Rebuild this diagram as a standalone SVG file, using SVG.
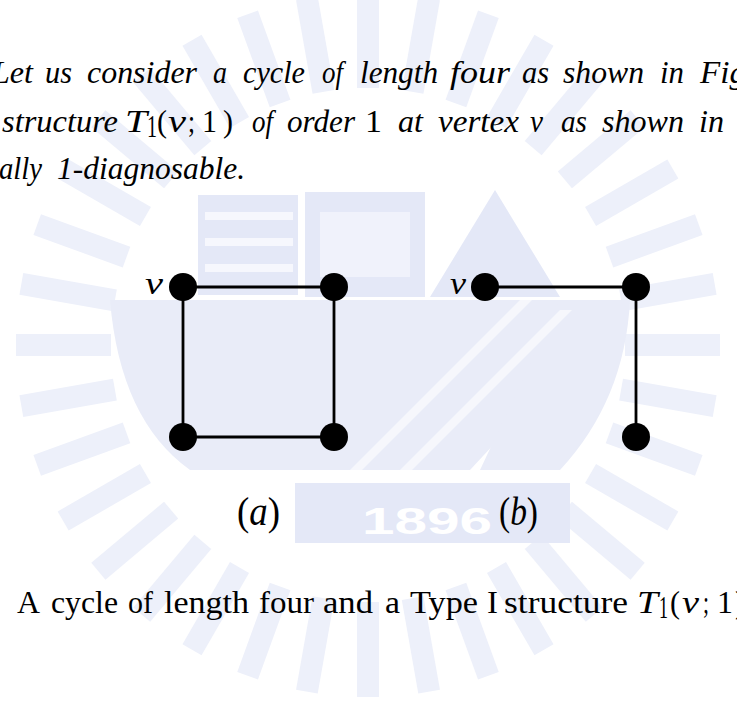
<svg xmlns="http://www.w3.org/2000/svg" xmlns:xlink="http://www.w3.org/1999/xlink" width="737" height="702" viewBox="0 0 737 702">
<style>
.it{font-family:"Liberation Serif","DejaVu Serif",serif;font-style:italic;font-size:32px;fill:#000}
.rm{font-family:"Liberation Serif","DejaVu Serif",serif;font-size:32px;fill:#000}
.cap{font-family:"Liberation Serif","DejaVu Serif",serif;font-size:32px;fill:#000}
.capi{font-family:"Liberation Serif","DejaVu Serif",serif;font-style:italic;font-size:32px;fill:#000}
.lab{font-family:"Liberation Serif","DejaVu Serif",serif;font-size:41px;fill:#000}
.edge{stroke:#000;stroke-width:2.8;fill:none}
.node{fill:#000}
.wm{fill:#edf0fa}
.wm1{fill:#e9ecf8}
.wm2{fill:#e4e8f7}
</style>
<defs>
<rect id="ray" x="-11" y="-352" width="22" height="95"/>
</defs>
<rect width="737" height="702" fill="#fff"/>
<g id="watermark">
<g class="wm" transform="translate(368,345)">
<use xlink:href="#ray" transform="rotate(0)"/><use xlink:href="#ray" transform="rotate(10)"/><use xlink:href="#ray" transform="rotate(20)"/><use xlink:href="#ray" transform="rotate(30)"/><use xlink:href="#ray" transform="rotate(40)"/><use xlink:href="#ray" transform="rotate(50)"/><use xlink:href="#ray" transform="rotate(60)"/><use xlink:href="#ray" transform="rotate(70)"/><use xlink:href="#ray" transform="rotate(80)"/><use xlink:href="#ray" transform="rotate(90)"/><use xlink:href="#ray" transform="rotate(100)"/><use xlink:href="#ray" transform="rotate(110)"/><use xlink:href="#ray" transform="rotate(120)"/><use xlink:href="#ray" transform="rotate(130)"/><use xlink:href="#ray" transform="rotate(140)"/><use xlink:href="#ray" transform="rotate(150)"/><use xlink:href="#ray" transform="rotate(160)"/><use xlink:href="#ray" transform="rotate(170)"/><use xlink:href="#ray" transform="rotate(180)"/><use xlink:href="#ray" transform="rotate(190)"/><use xlink:href="#ray" transform="rotate(200)"/><use xlink:href="#ray" transform="rotate(210)"/><use xlink:href="#ray" transform="rotate(220)"/><use xlink:href="#ray" transform="rotate(230)"/><use xlink:href="#ray" transform="rotate(240)"/><use xlink:href="#ray" transform="rotate(250)"/><use xlink:href="#ray" transform="rotate(260)"/><use xlink:href="#ray" transform="rotate(270)"/><use xlink:href="#ray" transform="rotate(280)"/><use xlink:href="#ray" transform="rotate(290)"/><use xlink:href="#ray" transform="rotate(300)"/><use xlink:href="#ray" transform="rotate(310)"/><use xlink:href="#ray" transform="rotate(320)"/><use xlink:href="#ray" transform="rotate(330)"/><use xlink:href="#ray" transform="rotate(340)"/><use xlink:href="#ray" transform="rotate(350)"/>
</g>
<path class="wm1" d="M110,300 L300,300 L300,470 L190,470 Q120,420 110,300 Z"/>
<path class="wm1" d="M300,300 L560,300 L600,330 L470,470 L300,470 Z"/>
<path class="wm1" d="M560,300 L630,300 Q625,400 560,470 L480,470 Z"/>
<path fill="#fff" opacity="0.6" d="M350,470 L520,300 L532,300 L362,470 Z"/>
<path fill="#fff" opacity="0.6" d="M400,470 L560,310 L572,310 L412,470 Z"/>
<rect class="wm2" x="198" y="195" width="100" height="100"/>
<g fill="#f6f7fd"><rect x="205" y="212" width="88" height="8"/><rect x="205" y="238" width="88" height="8"/><rect x="205" y="264" width="88" height="8"/></g>
<rect class="wm2" x="305" y="192" width="120" height="105"/>
<rect x="320" y="212" width="90" height="65" fill="#f0f2fb"/>
<path class="wm2" d="M430,297 L495,190 L560,297 Z"/>
<rect class="wm2" x="295" y="483" width="275" height="60"/>
<text x="362" y="534" font-family="'Liberation Sans',Arial,sans-serif" font-weight="bold" font-size="36" fill="#fff" textLength="130" lengthAdjust="spacingAndGlyphs">1896</text>
</g>
<g id="connectors">
<path class="edge" d="M183,287 H334 V437 H183 Z"/>
<path class="edge" d="M485,287 H636 V437"/>
</g>
<g id="node-a1"><circle class="node" cx="183" cy="287" r="14"/><text class="it" x="145" y="294" textLength="18" lengthAdjust="spacingAndGlyphs">v</text></g>
<g id="node-a2"><circle class="node" cx="334" cy="287" r="14"/></g>
<g id="node-a3"><circle class="node" cx="183" cy="437" r="14"/></g>
<g id="node-a4"><circle class="node" cx="334" cy="437" r="14"/></g>
<g id="node-b1"><circle class="node" cx="485" cy="287" r="14"/><text class="it" x="450" y="294" textLength="16" lengthAdjust="spacingAndGlyphs">v</text></g>
<g id="node-b2"><circle class="node" cx="636" cy="287" r="14"/></g>
<g id="node-b3"><circle class="node" cx="636" cy="437" r="14"/></g>
<g id="labels">
<text class="lab" x="237" y="525" textLength="43" lengthAdjust="spacingAndGlyphs">(<tspan font-style="italic">a</tspan>)</text>
<text class="lab" x="499" y="525" textLength="39" lengthAdjust="spacingAndGlyphs">(<tspan font-style="italic">b</tspan>)</text>
</g>
<g id="paragraph">
<text class="it" x="-8" y="83" textLength="41" lengthAdjust="spacingAndGlyphs">Let</text>
<text class="it" x="45" y="83" textLength="27" lengthAdjust="spacingAndGlyphs">us</text>
<text class="it" x="87" y="83" textLength="110" lengthAdjust="spacingAndGlyphs">consider</text>
<text class="it" x="213" y="83" textLength="14" lengthAdjust="spacingAndGlyphs">a</text>
<text class="it" x="243" y="83" textLength="62" lengthAdjust="spacingAndGlyphs">cycle</text>
<text class="it" x="322" y="83" textLength="21" lengthAdjust="spacingAndGlyphs">of</text>
<text class="it" x="360" y="83" textLength="78" lengthAdjust="spacingAndGlyphs">length</text>
<text class="it" x="450" y="83" textLength="60" lengthAdjust="spacingAndGlyphs">four</text>
<text class="it" x="522" y="83" textLength="27" lengthAdjust="spacingAndGlyphs">as</text>
<text class="it" x="563" y="83" textLength="81" lengthAdjust="spacingAndGlyphs">shown</text>
<text class="it" x="660" y="83" textLength="24" lengthAdjust="spacingAndGlyphs">in</text>
<text class="it" x="700" y="83" textLength="46" lengthAdjust="spacingAndGlyphs">Fig</text>

<text class="it" x="2" y="132" textLength="116" lengthAdjust="spacingAndGlyphs">structure</text>
<text class="it" x="125" y="132" textLength="22" lengthAdjust="spacingAndGlyphs">T</text>
<text class="rm" x="147" y="137" font-size="22" textLength="10" lengthAdjust="spacingAndGlyphs">1</text>
<text class="rm" x="157" y="132" textLength="10" lengthAdjust="spacingAndGlyphs">(</text>
<text class="it" x="168" y="132" textLength="18" lengthAdjust="spacingAndGlyphs">v</text>
<text class="rm" x="188" y="132" textLength="7" lengthAdjust="spacingAndGlyphs">;</text>
<text class="rm" x="202" y="132" textLength="15" lengthAdjust="spacingAndGlyphs">1</text>
<text class="rm" x="223" y="132" textLength="10" lengthAdjust="spacingAndGlyphs">)</text>
<text class="it" x="252" y="132" textLength="21" lengthAdjust="spacingAndGlyphs">of</text>
<text class="it" x="287" y="132" textLength="68" lengthAdjust="spacingAndGlyphs">order</text>
<text class="rm" x="365" y="132" textLength="17" lengthAdjust="spacingAndGlyphs">1</text>
<text class="it" x="398" y="132" textLength="25" lengthAdjust="spacingAndGlyphs">at</text>
<text class="it" x="438" y="132" textLength="81" lengthAdjust="spacingAndGlyphs">vertex</text>
<text class="it" x="530" y="132" textLength="13" lengthAdjust="spacingAndGlyphs">v</text>
<text class="it" x="561" y="132" textLength="26" lengthAdjust="spacingAndGlyphs">as</text>
<text class="it" x="602" y="132" textLength="82" lengthAdjust="spacingAndGlyphs">shown</text>
<text class="it" x="699" y="132" textLength="25" lengthAdjust="spacingAndGlyphs">in</text>

<text class="it" x="-1" y="179" textLength="43" lengthAdjust="spacingAndGlyphs">ally</text>
<text class="it" x="57" y="179" textLength="188" lengthAdjust="spacingAndGlyphs">1-diagnosable.</text>
</g>
<g id="caption">
<text class="cap" x="17" y="613" textLength="23" lengthAdjust="spacingAndGlyphs">A</text>
<text class="cap" x="51" y="613" textLength="67" lengthAdjust="spacingAndGlyphs">cycle</text>
<text class="cap" x="128" y="613" textLength="25" lengthAdjust="spacingAndGlyphs">of</text>
<text class="cap" x="164" y="613" textLength="85" lengthAdjust="spacingAndGlyphs">length</text>
<text class="cap" x="259" y="613" textLength="55" lengthAdjust="spacingAndGlyphs">four</text>
<text class="cap" x="323" y="613" textLength="50" lengthAdjust="spacingAndGlyphs">and</text>
<text class="cap" x="385" y="613" textLength="15" lengthAdjust="spacingAndGlyphs">a</text>
<text class="cap" x="410" y="613" textLength="68" lengthAdjust="spacingAndGlyphs">Type</text>
<text class="cap" x="487" y="613" textLength="11" lengthAdjust="spacingAndGlyphs">I</text>
<text class="cap" x="504" y="613" textLength="124" lengthAdjust="spacingAndGlyphs">structure</text>
<text class="capi" x="637" y="613" textLength="21" lengthAdjust="spacingAndGlyphs">T</text>
<text class="cap" x="659" y="618" font-size="22" textLength="9" lengthAdjust="spacingAndGlyphs">1</text>
<text class="cap" x="670" y="613" textLength="10" lengthAdjust="spacingAndGlyphs">(</text>
<text class="capi" x="682" y="613" textLength="17" lengthAdjust="spacingAndGlyphs">v</text>
<text class="cap" x="703" y="613" textLength="6" lengthAdjust="spacingAndGlyphs">;</text>
<text class="cap" x="717" y="613" textLength="16" lengthAdjust="spacingAndGlyphs">1</text>
<text class="cap" x="735" y="613" textLength="10" lengthAdjust="spacingAndGlyphs">)</text>
</g>
</svg>
